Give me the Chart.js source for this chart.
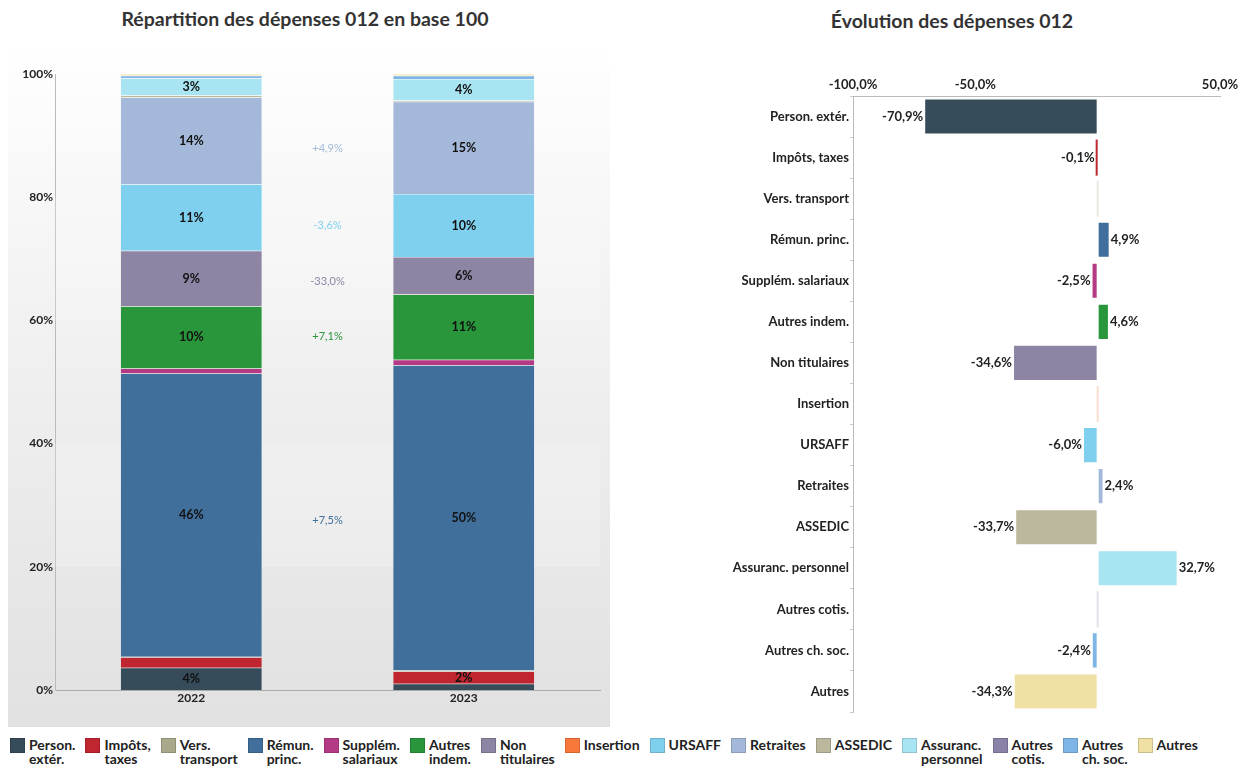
<!DOCTYPE html>
<html>
<head>
<meta charset="utf-8">
<script src="https://cdn.jsdelivr.net/npm/chart.js@4.4.1/dist/chart.umd.min.js"></script>
<style>
  body { margin: 0; width: 1242px; height: 767px; background: #fff; position: relative; overflow: hidden; font-family: Lato, sans-serif; }
  #panel { position: absolute; left: 8px; top: 45px; width: 602px; height: 682px; background: linear-gradient(#ffffff 0%, #f3f3f3 35%, #e1e1e1 100%); }
  .title { position: absolute; top: 7px; font-weight: bold; font-size: 19.5px; color: #333; text-align: center; white-space: nowrap; }
  #leftWrap { position: absolute; left: 0; top: 0; }
  #rightWrap { position: absolute; left: 620px; top: 0; }
  #legend { position: absolute; left: 10px; top: 738px; width: 1188px; display: flex; justify-content: space-between;
            font-family: "Liberation Sans Narrow", "Arial Narrow", Lato, sans-serif; font-weight: bold; font-size: 14px; line-height: 14px; color: #222; }
  .item { display: flex; align-items: flex-start; }
  .sw { width: 15px; height: 15px; margin-right: 4px; box-sizing: border-box; border: 1px solid rgba(0,0,0,0.15); }
</style>
</head>
<body>
<div id="panel"></div>
<div class="title" style="left:0;width:610px;">Répartition des dépenses 012 en base 100</div>
<div class="title" style="left:700px;width:504px;top:9px;">Évolution des dépenses 012</div>
<div id="leftWrap"><canvas id="leftChart" width="615" height="727"></canvas></div>
<div id="rightWrap"><canvas id="rightChart" width="622" height="727"></canvas></div>
<div id="legend"></div>

<script>
const years = ['2022', '2023'];
const categories = ['Person. extér.', 'Impôts, taxes', 'Vers. transport', 'Rémun. princ.', 'Supplém. salariaux',
    'Autres indem.', 'Non titulaires', 'Insertion', 'URSAFF', 'Retraites', 'ASSEDIC',
    'Assuranc. personnel', 'Autres cotis.', 'Autres ch. soc.', 'Autres'];
const colors = ['#374c5a', '#c0262f', '#a9a88a', '#3f6f9a', '#b43a86', '#2a963c', '#8e84a4', '#f7783a',
    '#7fcfef', '#a4b9d9', '#bbb89d', '#a9e4f2', '#8b82a8', '#7db5e6', '#f0e0a4'];

// shares in % of total spending
const share2022 = [3.6, 1.7, 0.1, 46.0, 0.8, 10.1, 9.0, 0, 10.8, 14.1, 0.3, 2.8, 0, 0.4, 0.3];
const share2023 = [1.0, 2.0, 0.2, 49.5, 0.9, 10.6, 6.1, 0, 10.2, 15.0, 0.2, 3.5, 0, 0.5, 0.3];
const midLabels = [null, null, null, '+7,5%', null, '+7,1%', '-33,0%', null, '-3,6%', '+4,9%', null, null, null, null, null];

// evolution 2022 -> 2023 in %
const evolution = [-70.9, -0.1, 0, 4.9, -2.5, 4.6, -34.6, 0, -6.0, 2.4, -33.7, 32.7, 0, -2.4, -34.3];

const leftFont = { family: 'Lato', size: 12, weight: 'bold' };
const rightFont = { family: 'Lato', size: 13, weight: 'bold' };
const textColor = '#222';

function fmtPct(v) {
    return v.toFixed(1).replace('.', ',') + '%';
}

// light bands behind the stacked bars
const bandsPlugin = {
    id: 'bands',
    beforeDatasetsDraw(chart) {
        const { ctx, chartArea, scales } = chart;
        ctx.save();
        ctx.fillStyle = 'rgba(255,255,255,0.2)';
        [[20, 40], [60, 80]].forEach(b => {
            const y1 = scales.y.getPixelForValue(b[1]);
            const y2 = scales.y.getPixelForValue(b[0]);
            ctx.fillRect(chartArea.left, y1, chartArea.right - chartArea.left, y2 - y1);
        });
        ctx.restore();
    }
};

const stackLabels = {
    id: 'stackLabels',
    afterDatasetsDraw(chart) {
        const ctx = chart.ctx;
        ctx.save();
        ctx.textAlign = 'center';
        ctx.textBaseline = 'middle';
        ctx.font = 'bold 12.5px Lato';
        ctx.fillStyle = '#111';
        chart.data.datasets.forEach((ds, i) => {
            chart.getDatasetMeta(i).data.forEach((bar, j) => {
                const v = ds.data[j];
                if (v < 1.9) return;
                ctx.fillText(Math.round(v) + '%', bar.x, (bar.y + bar.base) / 2);
            });
        });
        ctx.font = '11px Lato';
        midLabels.forEach((txt, i) => {
            if (!txt) return;
            const meta = chart.getDatasetMeta(i);
            const a = meta.data[0], b = meta.data[1];
            const y = ((a.y + a.base) / 2 + (b.y + b.base) / 2) / 2 + 4;
            ctx.fillStyle = colors[i];
            ctx.fillText(txt, (a.x + b.x) / 2, y);
        });
        ctx.restore();
    }
};

const barLabels = {
    id: 'barLabels',
    afterDatasetsDraw(chart) {
        const ctx = chart.ctx;
        const meta = chart.getDatasetMeta(0);
        const zero = chart.scales.x.getPixelForValue(0);
        ctx.save();
        ctx.font = 'bold 13px Lato';
        ctx.fillStyle = textColor;
        ctx.textBaseline = 'middle';
        meta.data.forEach((bar, i) => {
            const v = evolution[i];
            if (v === 0) return;
            if (v < 0) {
                ctx.textAlign = 'right';
                ctx.fillText(fmtPct(v), Math.min(bar.x, zero - 2) - 1, bar.y);
            } else {
                ctx.textAlign = 'left';
                ctx.fillText(fmtPct(v), bar.x + 1, bar.y);
            }
        });
        ctx.restore();
    }
};

new Chart(document.getElementById('leftChart'), {
    type: 'bar',
    data: {
        labels: years,
        datasets: categories.map((c, i) => ({
            label: c,
            data: [share2022[i], share2023[i]],
            backgroundColor: colors[i],
            borderColor: 'rgba(255,255,255,0.25)',
            borderWidth: 0.5,
            categoryPercentage: 1,
            barPercentage: 0.52
        }))
    },
    options: {
        responsive: false,
        animation: false,
        layout: { padding: { top: 74, right: 15, left: 0, bottom: 0 } },
        plugins: { legend: { display: false }, tooltip: { enabled: false } },
        scales: {
            x: {
                stacked: true,
                grid: { display: false, tickLength: 0 },
                border: { color: '#aaa' },
                ticks: { font: leftFont, color: textColor, padding: 1 },
                afterFit: s => { s.height = 37; }
            },
            y: {
                stacked: true,
                min: 0,
                max: 100,
                grid: { display: false, tickLength: 0 },
                border: { color: '#bbb' },
                ticks: { stepSize: 20, font: leftFont, color: textColor, padding: 2, callback: v => v + '%' },
                afterFit: s => { s.width = 55; }
            }
        }
    },
    plugins: [bandsPlugin, stackLabels]
});

new Chart(document.getElementById('rightChart'), {
    type: 'bar',
    data: {
        labels: categories,
        datasets: [{
            data: evolution,
            // empty rows show only a faint line at zero, like the original
            backgroundColor: ctx => evolution[ctx.dataIndex] === 0 ? colors[ctx.dataIndex] + '40' : colors[ctx.dataIndex],
            borderColor: 'rgba(255,255,255,0.6)',
            borderWidth: ctx => Math.abs(evolution[ctx.dataIndex]) < 1 ? 0 : 1,
            borderSkipped: false,
            minBarLength: 2,
            categoryPercentage: 1,
            barPercentage: 0.88
        }]
    },
    options: {
        indexAxis: 'y',
        responsive: false,
        animation: false,
        layout: { padding: { top: 60, right: 22, bottom: 15, left: 0 } },
        plugins: { legend: { display: false }, tooltip: { enabled: false } },
        scales: {
            x: {
                position: 'top',
                min: -100,
                max: 50,
                grid: { display: false, tickLength: 0 },
                border: { color: '#bbb' },
                ticks: { stepSize: 50, font: rightFont, color: textColor, padding: 3,
                    callback: v => v === 0 ? '' : fmtPct(v) },
                afterFit: s => { s.height = 36; }
            },
            y: {
                grid: { drawOnChartArea: false, tickLength: 3, color: '#ccc' },
                border: { color: '#bbb' },
                ticks: { font: rightFont, color: textColor, autoSkip: false, padding: 1 },
                afterFit: s => { s.width = 233; }
            }
        }
    },
    plugins: [barLabels]
});

// html legend, two-line labels like the original
let legendEl = document.getElementById('legend');
categories.forEach((c, i) => {
    let item = document.createElement('div');
    item.className = 'item';
    let sw = document.createElement('div');
    sw.className = 'sw';
    sw.style.background = colors[i];
    let txt = document.createElement('div');
    let k = c.indexOf(' ');
    txt.innerHTML = k > 0 ? c.slice(0, k) + '<br>' + c.slice(k + 1) : c;
    item.appendChild(sw);
    item.appendChild(txt);
    legendEl.appendChild(item);
});
</script>
</body>
</html>
